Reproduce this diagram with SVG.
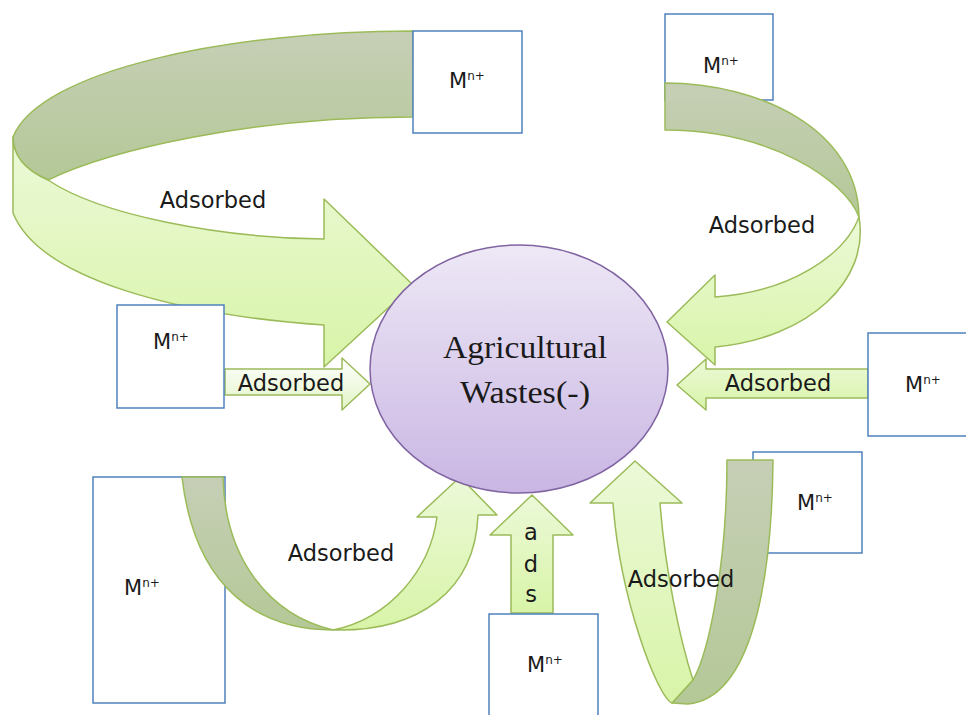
<svg xmlns="http://www.w3.org/2000/svg" width="966" height="715" viewBox="0 0 966 715">
<style>
.box{fill:#ffffff;stroke:#4f81bd;stroke-width:1.5}
.arw{stroke:#9bbb59;stroke-width:1.5;stroke-linejoin:round}
.lt{fill:url(#lg)}
.dk{fill:url(#dg)}
.lbl{font-family:"DejaVu Sans",Verdana,sans-serif;font-size:22.5px;fill:#1a1a1a;text-anchor:middle}
.m{font-family:"DejaVu Sans",Verdana,sans-serif;font-size:21px;fill:#1a1a1a;text-anchor:middle}
.sup{font-size:12px}
.main{font-family:"Liberation Serif","Times New Roman",serif;font-size:32px;fill:#1a1a1a;text-anchor:middle}
</style>
<defs>
<linearGradient id="lg" x1="0" y1="0" x2="0" y2="1">
<stop offset="0" stop-color="#ecf9d8"/>
<stop offset="1" stop-color="#d8f4a8"/>
</linearGradient>
<linearGradient id="dg" x1="0" y1="0" x2="0" y2="1">
<stop offset="0" stop-color="#c6cfb6"/>
<stop offset="1" stop-color="#b4c897"/>
</linearGradient>
<linearGradient id="wg" x1="0" y1="0" x2="0" y2="1">
<stop offset="0" stop-color="#ffffff"/>
<stop offset="1" stop-color="#e2f4c6"/>
</linearGradient>
<linearGradient id="pg" x1="0" y1="0" x2="0" y2="1">
<stop offset="0" stop-color="#eee8f6"/>
<stop offset="1" stop-color="#c9b6e3"/>
</linearGradient>
</defs>
<rect width="966" height="715" fill="#ffffff"/>

<!-- nodes drawn behind connectors -->
<g id="node-topright">
<rect class="box" x="665" y="14" width="108" height="86"/>
<text class="m" x="721" y="73">M<tspan class="sup" dy="-8">n+</tspan></text>
</g>
<g id="node-bottomleft">
<rect class="box" x="93" y="477" width="132" height="226"/>
<text class="m" x="142" y="595">M<tspan class="sup" dy="-8">n+</tspan></text>
</g>
<g id="node-bottomright">
<rect class="box" x="753" y="452" width="109" height="101"/>
<text class="m" x="815" y="510">M<tspan class="sup" dy="-8">n+</tspan></text>
</g>

<g id="connectors">
<!-- top-left curved arrow -->
<path class="arw dk" d="M413,31 C230,31 40,70 13,137 C13,155 25,170 48,180 C110,150 250,117 413,117 Z"/>
<path class="arw lt" d="M13,137 C13,155 25,170 48,180 C100,215 220,238 324,239 L324,199 L413,285 L324,367 L324,325 C180,315 40,280 13,213 Z"/>
<!-- top-right curved arrow -->
<path class="arw dk" d="M665,83 C760,83 858,130 859,217 C845,180 770,130 665,130 Z"/>
<path class="arw lt" d="M859,217 C870,280 810,338 715,347 L715,365 L667,322 L715,275 L715,297 C790,292 845,255 859,217 Z"/>
<!-- left straight arrow -->
<path class="arw" fill="url(#wg)" d="M225,369 L342,369 L342,358 L370,384 L342,410 L342,395 L225,395 Z"/>
<!-- right straight arrow -->
<path class="arw lt" d="M868,369 L706,369 L706,359 L677,385 L706,410 L706,398 L868,398 Z"/>
<!-- bottom-left U arrow -->
<path class="arw dk" d="M182,477 L223,477 C225,560 270,615 333,630 C260,630 195,590 182,477 Z"/>
<path class="arw lt" d="M333,630 C420,632 475,590 478,515 L497,515 L460,477 L417,517 L437,517 C430,570 390,618 333,630 Z"/>
<!-- bottom middle ads arrow -->
<path class="arw lt" d="M511,613 L511,535 L490,535 L532,495 L573,535 L553,535 L553,613 Z"/>
<!-- bottom-right J arrow -->
<path class="arw dk" d="M727,460 L773,460 C772,580 752,698 688,704 L672,703 L693,680 C710,650 727,560 727,460 Z"/>
<path class="arw lt" d="M613,503 L590,503 L635,461 L682,503 L660,503 C665,570 680,640 693,680 L672,703 C658,698 620,600 613,503 Z"/>

<text class="lbl" x="213" y="208">Adsorbed</text>
<text class="lbl" x="762" y="233">Adsorbed</text>
<text class="lbl" x="291" y="391">Adsorbed</text>
<text class="lbl" x="778" y="391">Adsorbed</text>
<text class="lbl" x="341" y="561">Adsorbed</text>
<text class="lbl" x="681" y="587">Adsorbed</text>
<text class="lbl" x="531" y="540">a</text>
<text class="lbl" x="531" y="572">d</text>
<text class="lbl" x="531" y="602">s</text>
</g>

<!-- nodes drawn in front -->
<g id="node-top">
<rect class="box" x="413" y="31" width="109" height="102"/>
<text class="m" x="467" y="88">M<tspan class="sup" dy="-8">n+</tspan></text>
</g>
<g id="node-leftmid">
<rect class="box" x="117" y="305" width="107" height="103"/>
<text class="m" x="171" y="349">M<tspan class="sup" dy="-8">n+</tspan></text>
</g>
<g id="node-rightmid">
<rect class="box" x="868" y="333" width="110" height="103"/>
<text class="m" x="923" y="392">M<tspan class="sup" dy="-8">n+</tspan></text>
</g>
<g id="node-bottommid">
<rect class="box" x="489" y="614" width="109" height="110"/>
<text class="m" x="545" y="672">M<tspan class="sup" dy="-8">n+</tspan></text>
</g>
<g id="node-center">
<ellipse cx="519" cy="369" rx="149" ry="124" fill="url(#pg)" stroke="#8064a2" stroke-width="1.5"/>
<text class="main" x="525" y="358" textLength="164" lengthAdjust="spacingAndGlyphs">Agricultural</text>
<text class="main" x="525" y="403" textLength="130" lengthAdjust="spacingAndGlyphs">Wastes(-)</text>
</g>
</svg>
